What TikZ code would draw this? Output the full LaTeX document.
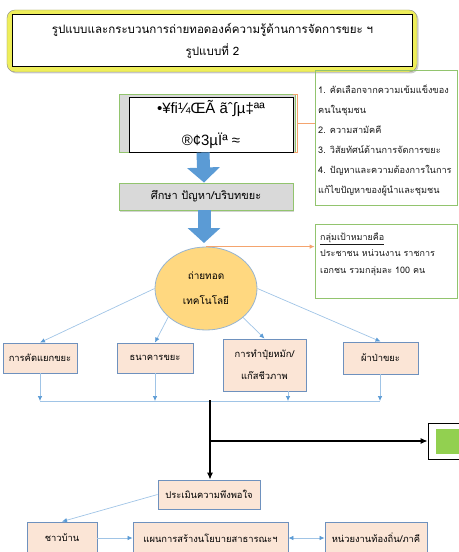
\documentclass[tikz,border=0pt]{standalone}
\usepackage{fontspec}
\setmainfont{Liberation Sans}
\newfontfamily\thai[Script=Thai]{Loma}
\usetikzlibrary{arrows.meta,shapes.geometric,shadows,calc}
\definecolor{peach}{RGB}{251,229,214}
\definecolor{pborder}{RGB}{110,145,190}
\definecolor{lblue}{RGB}{160,196,230}
\definecolor{tipblue}{RGB}{91,155,213}
\definecolor{bigblue}{RGB}{91,155,213}
\definecolor{gfill}{RGB}{217,217,217}
\definecolor{gborder}{RGB}{146,196,110}
\definecolor{orangeL}{RGB}{244,164,110}
\definecolor{ellfill}{RGB}{255,216,128}
\definecolor{ellborder}{RGB}{150,180,210}
\definecolor{yel}{RGB}{238,238,90}
\definecolor{lgreen}{RGB}{146,208,80}
\tikzset{
  pbox/.style={draw=pborder, fill=peach, line width=0.9bp, inner sep=1bp, align=center,
     font=\thai\fontsize{9.4}{22}\selectfont, text=black},
  gbox/.style={draw=gborder, fill=gfill, line width=0.9bp, inner sep=1bp, align=center,
     drop shadow={opacity=0.35, shadow xshift=1.2bp, shadow yshift=-1.5bp}},
  thin/.style={draw=lblue, line width=0.7bp, -{Latex[length=5bp,width=4.5bp,color=tipblue]}},
  blk/.style={draw=black, line width=1.1bp, -{Latex[length=7bp,width=6bp]}},
  bigarrow/.style={draw=bigblue, line width=13bp, -{Triangle[width=32bp,length=15bp]}},
  listtxt/.style={font=\thai\fontsize{9.2}{20.2}\selectfont, align=left, inner sep=0pt, text=black!90},
}
\begin{document}
\begin{tikzpicture}[x=1bp,y=-1bp]
\useasboundingbox (0,0) rectangle (459,552);
% title
\node[draw=black!45, fill=yel, rounded corners=8bp, minimum width=410bp, minimum height=62bp,
  drop shadow={opacity=0.4, shadow xshift=1.5bp, shadow yshift=-1.5bp}] (tout) at (212,41) {};
\node[draw=black, fill=white, line width=1bp, minimum width=399bp, minimum height=52bp,
  align=center, font=\thai\fontsize{11.6}{22}\selectfont] (tin) at (212.5,41)
  {รูปแบบและกระบวนการถ่ายทอดองค์ความรู้ด้านการจัดการขยะ ฯ\\รูปแบบที่ 2};
% top grey box with garbled text
\node[gbox, minimum width=176bp, minimum height=58bp] (g1) at (207,123) {};
\draw[orangeL, line width=0.8bp] (293,94.5) -- (297,94.5) -- (297,152.5) -- (293,152.5);
\coordinate (obr) at (297,123);
\node[draw=black, fill=white, line width=0.8bp, minimum width=164bp, minimum height=55bp,
  align=center, font=\fontsize{15}{32}\selectfont, inner sep=0pt] (g1t) at (211,124.5)
  {\raisebox{-5bp}{•¥fi¼ŒÃ ãˆ∫µ‡ªª}\\\raisebox{-6bp}{®¢3µÏª ≈}};
% list box
\node[draw=gborder, line width=0.8bp, minimum width=142bp, minimum height=135bp] (lb) at (386,137.5) {};
\node[listtxt, anchor=west] (lbt) at (318,140.5)
  {1. คัดเลือกจากความเข้มแข็งของ\\คนในชุมชน\\2. ความสามัคคี\\3. วิสัยทัศน์ด้านการจัดการขยะ\\4. ปัญหาและความต้องการในการ\\แก้ไขปัญหาของผู้นำและชุมชน};
\draw[orangeL, line width=0.9bp] (obr) -- (obr -| lb.west);
% second grey box
\node[gbox, minimum width=174bp, minimum height=27bp, font=\thai\fontsize{11}{12}\selectfont, text=black] (g2) at (206,196.5) {ศึกษา ปัญหา/บริบทขยะ};
\draw[bigarrow] ($(g1.south)+(-4,0)$) -- ($(g2.north)+(-2,0)$);
\coordinate (a2t) at (204,243);
\draw[bigarrow] ($(g2.south)+(-2,0)$) -- (a2t);
% ellipse
\node[ellipse, draw=ellborder, fill=ellfill, line width=0.8bp, minimum width=102bp, minimum height=83bp,
  inner sep=0pt, align=center, font=\thai\fontsize{10}{25}\selectfont] (ell) at (206,288.5) {ถ่ายทอด\\เทคโนโลยี};
% target box
\node[draw=gborder, line width=0.8bp, minimum width=142bp, minimum height=74bp] (tg) at (386,261) {};
\node[listtxt, font=\thai\fontsize{9}{16.5}\selectfont, anchor=west] (tgt) at (320,254)
  {\underline{กลุ่มเป้าหมายคือ}\\ประชาชน หน่วนงาน ราชการ\\เอกชน รวมกลุ่มละ 100 คน};
\draw[orangeL, line width=0.9bp, -{Latex[length=5bp,width=4.5bp]}] (ell.north) -- (ell.north -| tg.west);
% four boxes
\node[pbox, minimum width=74bp, minimum height=30bp] (b1) at (40,358) {การคัดแยกขยะ};
\node[pbox, minimum width=76bp, minimum height=30bp] (b2) at (155,358) {ธนาคารขยะ};
\node[pbox, minimum width=83bp, minimum height=52bp] (b3) at (264.5,365) {การทำปุ๋ยหมัก/\\แก๊สชีวภาพ};
\node[pbox, minimum width=75bp, minimum height=32bp] (b4) at (380.5,358) {ผ้าป่าขยะ};
\draw[thin] (ell.west) -- (b1.north);
\draw[thin] (ell.217) -- (b2.north);
\draw[thin] (ell.322) -- (b3.north);
\draw[thin] (ell.east) -- (b4.north);
% collector line
\coordinate (h1) at (40,401);
\coordinate (h2) at (155,401);
\coordinate (h3) at (288,401);
\coordinate (h4) at (380,401);
\draw[lblue, line width=0.8bp] (h1) -- (h4);
\draw[thin] (b1.south) -- (h1);
\draw[thin] (b2.south) -- (h2);
\draw[thin] (b3.south -| h3) -- (h3);
\draw[thin] (b4.south -| h4) -- (h4);
% lower part
\node[pbox, minimum width=102bp, minimum height=29bp] (ev) at (209,494.5) {ประเมินความพึงพอใจ};
\node[draw=black, line width=0.9bp, minimum width=60bp, minimum height=36bp] (gb) at (458,441) {};
\fill[lgreen] (436,429) rectangle (462,454);
\coordinate (jt) at (210,400);
\coordinate (jm) at (210,441);
\draw[blk] (jt) -- (jt |- ev.north);
\draw[blk] (jm) -- (jm -| gb.west);
\node[pbox, minimum width=70bp, minimum height=32bp] (vil) at (62,538) {ชาวบ้าน};
\node[pbox, minimum width=155bp, minimum height=32bp] (plan) at (210.5,538) {แผนการสร้างนโยบายสาธารณะฯ};
\node[pbox, minimum width=102bp, minimum height=32bp] (ag) at (376,538) {หน่วยงานท้องถิ่น/ภาคี};
\draw[thin] (ev.west) -- (vil.north);
\draw[thin] (vil.east) -- (plan.west);
\draw[draw=lblue, line width=0.7bp, {Latex[length=5bp,width=4.5bp,color=tipblue]}-{Latex[length=5bp,width=4.5bp,color=tipblue]}] (plan.east) -- (ag.west);
\draw[black!12, line width=2.5bp] (441,556) arc (180:110:20);
\end{tikzpicture}
\end{document}
